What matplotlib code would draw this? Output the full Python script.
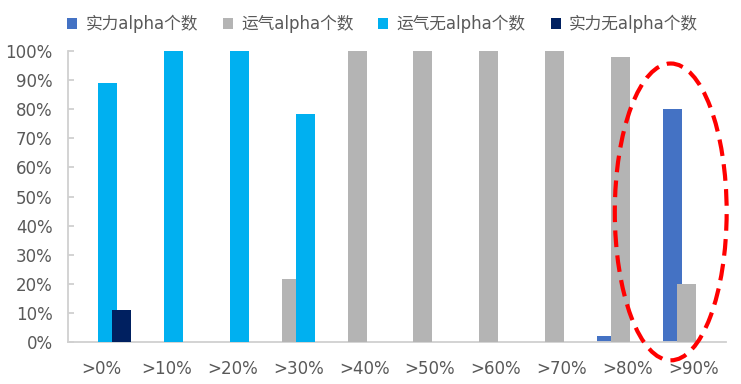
import numpy as np
import matplotlib
matplotlib.use("Agg")
import matplotlib.pyplot as plt
from matplotlib.patches import Ellipse

plt.rcParams["font.family"] = ["DejaVu Sans", "Noto Sans CJK SC"]

cats = [">0%", ">10%", ">20%", ">30%", ">40%", ">50%", ">60%", ">70%", ">80%", ">90%"]
series = ["实力alpha个数", "运气alpha个数", "运气无alpha个数", "实力无alpha个数"]
skill_alpha = [0, 0, 0, 0, 0, 0, 0, 0, 0.02, 0.80]
luck_alpha = [0, 0, 0, 0.215, 1.0, 1.0, 1.0, 1.0, 0.98, 0.20]
luck_noalpha = [0.89, 1.0, 1.0, 0.785, 0, 0, 0, 0, 0, 0]
skill_noalpha = [0.11, 0, 0, 0, 0, 0, 0, 0, 0, 0]
colors = ["#4472C4", "#B4B4B4", "#00B0F0", "#002060"]

fig = plt.figure(figsize=(7.41, 3.84), dpi=100)
ax = fig.add_axes([68 / 741, 42 / 384, 658 / 741, 291 / 384])

x = np.arange(len(cats))
step, w = 0.213, 0.289
vals = [skill_alpha, luck_alpha, luck_noalpha, skill_noalpha]
for i, (v, c, lab) in enumerate(zip(vals, colors, series)):
    ax.bar(x + (i - 1.5) * step, v, w, color=c, label=lab, zorder=2 + i)

ax.set_xlim(-0.5, len(cats) - 0.5)
ax.set_ylim(0, 1)
yt = np.arange(0, 1.01, 0.1)
ax.set_yticks(yt)
ax.set_yticklabels([f"{int(round(t * 100))}%" for t in yt])
ax.set_xticks(x)
ax.set_xticklabels(cats)
for s in ["top", "right"]:
    ax.spines[s].set_visible(False)
for s in ["left", "bottom"]:
    ax.spines[s].set_color("#D0D0D0")
    ax.spines[s].set_linewidth(1.3)
ax.tick_params(axis="y", direction="in", length=4, color="#D0D0D0", width=1.3,
               labelsize=12, labelcolor="#595959", pad=11)
ax.tick_params(axis="x", length=0, labelsize=12, labelcolor="#595959", pad=13)

# red dashed highlight round the >90% group
ax.add_patch(Ellipse((8.66, 0.447), 1.70, 1.02, fill=False, ec="#FF0000", lw=3,
                     ls=(0, (4, 2)), clip_on=False, zorder=10))

fig.legend(loc="upper left", bbox_to_anchor=(52 / 741, 1.0), ncol=4, frameon=False,
           handlelength=0.6, handleheight=0.6, handletextpad=0.5, columnspacing=1.5,
           prop={"size": 12}, labelcolor="#595959")

fig.savefig("out.png", dpi=100)
